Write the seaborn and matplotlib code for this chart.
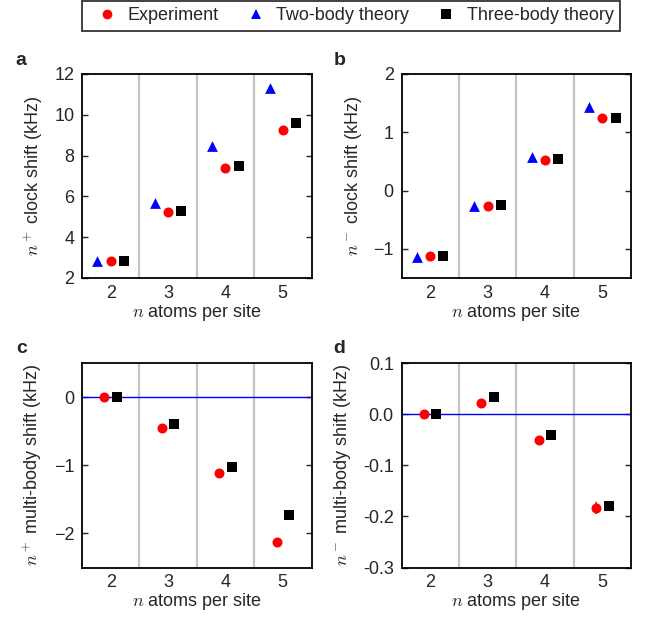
import matplotlib
matplotlib.use("Agg")
import numpy as np
import pandas as pd
import seaborn as sns
import matplotlib.pyplot as plt
from matplotlib.lines import Line2D
from matplotlib.ticker import FormatStrFormatter

# atoms per site
n_atoms = [2, 3, 4, 5]

# a: n+ clock shift (kHz)
a_exp = [2.84, 5.22, 7.40, 9.24]
a_exp_err = [0.03, 0.04, 0.05, 0.06]
a_two = [2.82, 5.66, 8.49, 11.33]
a_three = [2.84, 5.26, 7.47, 9.62]

# b: n- clock shift (kHz)
b_exp = [-1.12, -0.26, 0.53, 1.25]
b_exp_err = [0.01, 0.01, 0.02, 0.02]
b_two = [-1.14, -0.27, 0.57, 1.44]
b_three = [-1.12, -0.24, 0.54, 1.25]

# c: n+ multi-body shift (kHz)
c_exp = [0.0, -0.45, -1.11, -2.12]
c_exp_err = [0.02, 0.03, 0.04, 0.05]
c_three = [0.0, -0.40, -1.02, -1.73]

# d: n- multi-body shift (kHz)
d_exp = [0.0, 0.022, -0.050, -0.184]
d_exp_err = [0.002, 0.003, 0.005, 0.012]
d_three = [0.0, 0.033, -0.040, -0.179]

sns.set_style("ticks")
plt.rcParams["font.family"] = ["Liberation Sans", "DejaVu Sans"]
plt.rcParams["mathtext.fontset"] = "cm"
plt.rcParams["font.size"] = 13

RED = "#ff0000"
BLUE = "#0000ff"
BLACK = "#000000"
FS = 13

fig = plt.figure(figsize=(6.55, 6.2), dpi=100)
W, H = 655.0, 620.0


def make_axes(left, top, right, bottom):
    return fig.add_axes([left / W, 1 - bottom / H, (right - left) / W, (bottom - top) / H])


ax_a = make_axes(82, 74, 311.5, 278)
ax_b = make_axes(401.5, 74, 631, 278)
ax_c = make_axes(82, 363, 311.5, 567.5)
ax_d = make_axes(401.5, 363, 631, 567.5)


def draw_panel(ax, exp, err, three, two=None, ylim=None, yticks=None, ylabel="", zero_line=False, fmt=None):
    off = 0.23 if two is not None else 0.11
    for xb in [2.5, 3.5, 4.5]:
        ax.axvline(xb, color="#c4c4c4", lw=1.6, zorder=0)
    if zero_line:
        ax.axhline(0, color=BLUE, lw=1.0, zorder=1)
    if two is not None:
        x_exp = np.array(n_atoms, dtype=float)
        df_two = pd.DataFrame({"x": np.array(n_atoms) - off, "y": two})
        sns.scatterplot(data=df_two, x="x", y="y", ax=ax, marker="^", color=BLUE, s=60, linewidth=0, zorder=3)
    else:
        x_exp = np.array(n_atoms) - off
    x_three = np.array(n_atoms) + off
    ax.errorbar(x_exp, exp, yerr=err, fmt="none", ecolor=RED, elinewidth=1.2, capsize=0, zorder=2)
    df_exp = pd.DataFrame({"x": x_exp, "y": exp})
    sns.scatterplot(data=df_exp, x="x", y="y", ax=ax, marker="o", color=RED, s=52, linewidth=0, zorder=3)
    df_three = pd.DataFrame({"x": x_three, "y": three})
    sns.scatterplot(data=df_three, x="x", y="y", ax=ax, marker="s", color=BLACK, s=52, linewidth=0, zorder=3)

    ax.set_xlim(1.5, 5.5)
    ax.set_xticks(n_atoms)
    ax.set_xticklabels([str(v) for v in n_atoms])
    ax.set_ylim(*ylim)
    ax.set_yticks(yticks)
    if fmt:
        ax.yaxis.set_major_formatter(FormatStrFormatter(fmt))
    ax.tick_params(axis="y", direction="in", length=4, width=1.0, left=True, right=True, labelsize=FS, pad=5.5)
    ax.tick_params(axis="x", length=0, labelsize=FS, pad=5)
    for sp in ax.spines.values():
        sp.set_linewidth(1.3)
        sp.set_color("black")
    ax.set_xlabel(r"$n$ atoms per site", fontsize=FS, labelpad=0)
    ax.set_ylabel(ylabel, fontsize=FS, labelpad=7)


draw_panel(ax_a, a_exp, a_exp_err, a_three, two=a_two, ylim=(2, 12), yticks=[2, 4, 6, 8, 10, 12],
           ylabel=r"$n^+$ clock shift (kHz)")
draw_panel(ax_b, b_exp, b_exp_err, b_three, two=b_two, ylim=(-1.5, 2), yticks=[-1, 0, 1, 2],
           ylabel=r"$n^-$ clock shift (kHz)")
draw_panel(ax_c, c_exp, c_exp_err, c_three, ylim=(-2.5, 0.5), yticks=[-2, -1, 0],
           ylabel=r"$n^+$ multi-body shift (kHz)", zero_line=True)
draw_panel(ax_d, d_exp, d_exp_err, d_three, ylim=(-0.3, 0.1), yticks=[-0.3, -0.2, -0.1, 0.0, 0.1],
           ylabel=r"$n^-$ multi-body shift (kHz)", zero_line=True, fmt="%.1f")

for lab, (px, py) in zip("abcd", [(15, 65), (334, 65), (16, 353), (333, 353)]):
    fig.text(px / W, 1 - py / H, lab, fontsize=14, fontweight="bold", ha="left", va="baseline")

handles = [
    Line2D([], [], ls="none", marker="o", color=RED, markersize=7, markeredgewidth=0),
    Line2D([], [], ls="none", marker="^", color=BLUE, markersize=7, markeredgewidth=0),
    Line2D([], [], ls="none", marker="s", color=BLACK, markersize=6.5, markeredgewidth=0),
]
labels = ["Experiment", "Two-body theory", "Three-body theory"]
leg = fig.legend(handles, labels, loc="upper left", ncol=3,
                 bbox_to_anchor=(82 / W, 1 - 1 / H),
                 frameon=True, fancybox=False, edgecolor="black", fontsize=13,
                 handlelength=2.1, handletextpad=0.08, columnspacing=1.0, borderaxespad=0,
                 borderpad=0.36)
leg.get_frame().set_linewidth(1.3)

fig.savefig("out.png", dpi=100)
